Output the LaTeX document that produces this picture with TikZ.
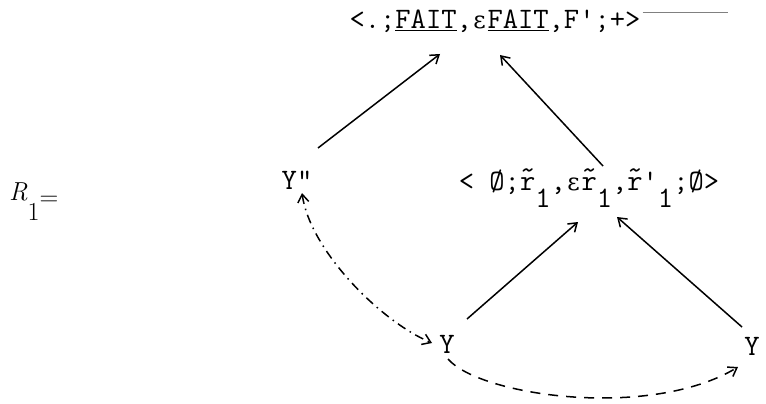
\documentclass[tikz,border=0pt]{standalone}
\usepackage{fontspec}
\newfontfamily\dvs{DejaVu Serif}
\usetikzlibrary{arrows.meta}
\newcommand\rtl{\rlap{\raisebox{0.36em}{\char"7E}}r}
\newcommand\lo{\raisebox{-0.6em}{1}}
\newcommand\eps{\makebox[0.525em]{\dvs\fontsize{24}{28}\selectfont ε}}
\begin{document}
\begin{tikzpicture}[x=1pt,y=-1pt,
  tt/.style={inner sep=0pt, anchor=base, font=\ttfamily\fontsize{29.7}{34}\selectfont},
  arr/.style={line width=1.5pt, -{Straight Barb[length=8pt,width=11pt]}},
  dd/.style={line width=1.5pt, dash pattern=on 9pt off 5pt on 1.5pt off 5pt,
     {Straight Barb[length=8pt,width=11pt]}-{Straight Barb[length=8pt,width=11pt]}},
  ds/.style={line width=1.5pt, dash pattern=on 10pt off 8pt,
     -{Straight Barb[length=8pt,width=11pt]}}]
\useasboundingbox (0,0) rectangle (766,404);
\node[tt] (top) at (495,29) {<.;\underline{FAIT},\eps\underline{FAIT},F\char"27;+>};
\node[tt] (mid) at (589,190) {< Ø;\rtl\lo,\eps\rtl\lo,\rtl\char"27\lo;Ø>};
\node[tt] (Ypp) at (297,189) {Y\char"22};
\node[tt] (Y1) at (447,353) {Y};
\node[tt] (Y2) at (752,355) {Y};
\node[inner sep=0pt, anchor=base west, font=\fontsize{26}{30}\selectfont] (R) at (9,200)
  {\textit{R}\raisebox{-0.8em}{1}\raisebox{-0.2em}{=}};
\draw[gray, line width=0.4pt] (top.east) ++(2,-10) coordinate (tl) -- ++(85,0) coordinate (tr);
\draw[arr] ([shift={(21,-41)}]Ypp.base) -- ([shift={(-55,25)}]top.base);
\draw[arr] ([shift={(14,-24)}]mid.base) -- ([shift={(5,26)}]top.base);
\draw[arr] ([shift={(20,-34)}]Y1.base) -- ([shift={(-11,32)}]mid.base);
\draw[arr] ([shift={(-10,-28)}]Y2.base) -- ([shift={(28,27)}]mid.base);
\draw[dd] ([shift={(5,4)}]Ypp.base) .. controls +(8,57) and +(-52,-22) .. ([shift={(-15,-10)}]Y1.base);
\draw[ds] ([shift={(1,6)}]Y1.base) .. controls +(32,37) and +(-88,53) .. ([shift={(-14,12)}]Y2.base);
\end{tikzpicture}
\end{document}
